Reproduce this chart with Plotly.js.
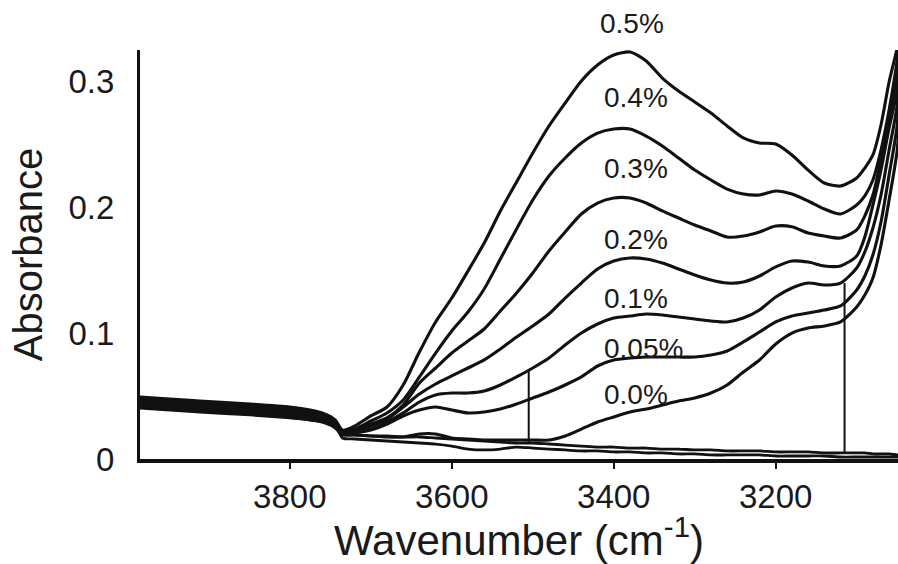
<!DOCTYPE html>
<html>
<head>
<meta charset="utf-8">
<script src="https://cdn.plot.ly/plotly-3.0.1.min.js"></script>
<style>html,body{margin:0;padding:0;background:#fff}#chart{width:898px;height:564px}</style>
</head>
<body>
<div id="chart"></div>
<script>
// Wavenumber grid (cm-1)
const wavenumber = [3985,3948,3911,3849,3800,3775,3757,3744,3735,3720,3700,3680,3660,3640,3620,3600,3580,3560,3540,3520,3500,3480,3460,3440,3420,3400,3380,3360,3340,3320,3300,3280,3260,3240,3220,3200,3180,3160,3140,3120,3100,3090,3080,3070,3060,3050,3045];

// Absorbance spectra, one per concentration
const abs_0_5 = [0.0493,0.0477,0.0461,0.0437,0.0413,0.0389,0.0358,0.0310,
  0.0230,0.0262,0.0342,0.0413,0.0588,0.0850,0.1089,0.1279,0.1494,0.1716,0.1971,0.2201,0.2431,0.2646,0.2829,0.3004,0.3131,0.3210,0.3234,0.3163,0.3027,0.2924,0.2837,0.2749,0.2646,0.2551,0.2511,0.2503,0.2416,0.2296,0.2193,0.2169,0.2233,0.2312,0.2416,0.2654,0.2996,0.3266,0.345];
const abs_0_4 = [0.0477,0.0461,0.0445,0.0421,0.0397,0.0373,0.0342,0.0302,
  0.0222,0.0238,0.0302,0.0366,0.0469,0.0652,0.0842,0.1017,0.1168,0.1351,0.1589,0.1828,0.2058,0.2249,0.2392,0.2511,0.2590,0.2622,0.2622,0.2566,0.2487,0.2392,0.2296,0.2217,0.2145,0.2106,0.2098,0.2130,0.2106,0.2050,0.1987,0.1947,0.2018,0.2090,0.2217,0.2455,0.2773,0.3170,0.345];
const abs_0_3 = [0.0461,0.0445,0.0429,0.0405,0.0381,0.0358,0.0326,0.0286,
  0.0215,0.0230,0.0278,0.0326,0.0429,0.0604,0.0723,0.0842,0.0938,0.1033,0.1176,0.1319,0.1478,0.1653,0.1804,0.1947,0.2034,0.2074,0.2074,0.2034,0.1971,0.1915,0.1859,0.1812,0.1764,0.1772,0.1804,0.1851,0.1845,0.1796,0.1772,0.1756,0.1820,0.1931,0.2098,0.2376,0.2710,0.3051,0.345];
const abs_0_2 = [0.0445,0.0429,0.0413,0.0389,0.0366,0.0342,0.0310,0.0270,
  0.0207,0.0222,0.0262,0.0318,0.0413,0.0516,0.0596,0.0660,0.0723,0.0787,0.0874,0.0969,0.1057,0.1152,0.1279,0.1398,0.1510,0.1573,0.1597,0.1589,0.1557,0.1510,0.1462,0.1422,0.1398,0.1406,0.1454,0.1526,0.1573,0.1565,0.1534,0.1534,0.1613,0.1764,0.2018,0.2296,0.2630,0.2932,0.34];
const abs_0_1 = [0.0429,0.0413,0.0397,0.0373,0.0350,0.0326,0.0302,0.0262,
  0.0207,0.0215,0.0238,0.0294,0.0366,0.0453,0.0509,0.0524,0.0524,0.0540,0.0588,0.0652,0.0723,0.0802,0.0906,0.1001,0.1073,0.1120,0.1136,0.1152,0.1144,0.1128,0.1112,0.1097,0.1089,0.1120,0.1184,0.1287,0.1359,0.1398,0.1383,0.1398,0.1518,0.1645,0.1836,0.2098,0.2455,0.2813,0.34];
const abs_0_05 = [0.0413,0.0397,0.0381,0.0358,0.0334,0.0310,0.0294,0.0254,
  0.0199,0.0207,0.0230,0.0278,0.0342,0.0389,0.0413,0.0389,0.0366,0.0373,0.0397,0.0437,0.0485,0.0532,0.0588,0.0652,0.0739,0.0787,0.0802,0.0810,0.0810,0.0810,0.0810,0.0826,0.0858,0.0930,0.1009,0.1089,0.1136,0.1160,0.1184,0.1216,0.1343,0.1454,0.1621,0.1883,0.2257,0.2654,0.33];
const abs_0_0 = [0.0485,0.0461,0.0453,0.0429,0.0405,0.0373,0.0334,0.0286,
  0.0199,0.0191,0.0183,0.0175,0.0175,0.0199,0.0199,0.0167,0.0159,0.0151,0.0151,0.0151,0.0151,0.0151,0.0183,0.0238,0.0294,0.0334,0.0373,0.0397,0.0429,0.0461,0.0485,0.0524,0.0588,0.0691,0.0787,0.0914,0.1001,0.1041,0.1057,0.1089,0.1208,0.1303,0.1438,0.1700,0.2058,0.2455,0.30];
// Flat reference spectra lying near the baseline
const absRefA = [0.0405,0.0389,0.0373,0.0350,0.0326,0.0310,0.0286,0.0246,
  0.0191,0.0191,0.0183,0.0183,0.0175,0.0175,0.0167,0.0159,0.0151,0.0143,0.0135,0.0127,0.0127,0.0119,0.0111,0.0103,0.0095,0.0095,0.0087,0.0087,0.0079,0.0079,0.0072,0.0072,0.0064,0.0064,0.0064,0.0056,0.0056,0.0056,0.0048,0.0048,0.0048,0.0048,0.0040,0.0040,0.0040,0.0032,0.0032];
const absRefB = [0.0453,0.0437,0.0421,0.0397,0.0373,0.0350,0.0318,0.0270,
  0.0167,0.0159,0.0151,0.0143,0.0135,0.0127,0.0119,0.0103,0.0079,0.0072,0.0079,0.0095,0.0087,0.0079,0.0072,0.0064,0.0064,0.0056,0.0056,0.0048,0.0048,0.0040,0.0040,0.0032,0.0032,0.0032,0.0032,0.0024,0.0024,0.0024,0.0024,0.0016,0.0016,0.0016,0.0016,0.0016,0.0016,0.0016,0.0016];

// Integration limit markers (wavenumber, bottom absorbance, top absorbance)
const markerWn = [3505, 3115];
const markerLow = [0.0127, 0.0040];
const markerHigh = [0.0707, 0.1398];

// Series labels
const seriesNames = ['0.5%','0.4%','0.3%','0.2%','0.1%','0.05%','0.0%'];
const seriesData = [abs_0_5, abs_0_4, abs_0_3, abs_0_2, abs_0_1, abs_0_05, abs_0_0];
const tickVals = [3800, 3600, 3400, 3200];
const yTickVals = [0, 0.1, 0.2, 0.3];
const yTickText = ['0', '0.1', '0.2', '0.3'];

// label anchor placement: [x (data), y, y reference]
const labelPlace = [[3420,1.064,'paper'],[3415,0.2876,'y'],[3415,0.2312,'y'],[3415,0.1748,'y'],[3414,0.1279,'y'],[3414,0.0882,'y'],[3414,0.0509,'y']];

const ink = '#111';
const font = 'Liberation Sans, Arial, Helvetica, sans-serif';

const traces = [];
seriesData.forEach((ys, i) => {
  traces.push({x: wavenumber, y: ys, type: 'scatter', mode: 'lines', name: seriesNames[i],
    line: {color: ink, width: 3.1, shape: 'spline', smoothing: 0.7}, hoverinfo: 'skip'});
});
[absRefA, absRefB].forEach((ys) => {
  traces.push({x: wavenumber, y: ys, type: 'scatter', mode: 'lines',
    line: {color: ink, width: 2.8, shape: 'spline', smoothing: 0.7}, hoverinfo: 'skip'});
});
markerWn.forEach((w, i) => {
  traces.push({x: [w, w], y: [markerLow[i], markerHigh[i]], type: 'scatter', mode: 'lines',
    line: {color: ink, width: 2}, hoverinfo: 'skip'});
});

const annotations = seriesNames.map((t, i) => ({
  x: labelPlace[i][0], y: labelPlace[i][1], xref: 'x', yref: labelPlace[i][2], text: t,
  showarrow: false, xanchor: 'left', yanchor: 'middle',
  font: {family: font, size: 28, color: '#1a1a1a'}
}));

const layout = {
  width: 898, height: 564,
  margin: {l: 140, r: 0, t: 50, b: 105},
  paper_bgcolor: '#fff', plot_bgcolor: '#fff',
  showlegend: false,
  xaxis: {
    range: [3985, 3049], tickvals: tickVals, ticks: 'outside', ticklen: 6, tickwidth: 2, tickcolor: ink,
    showline: true, linewidth: 3.5, linecolor: ink, showgrid: false, zeroline: false,
    tickfont: {family: font, size: 33, color: '#1a1a1a'},
    title: {text: 'Wavenumber (cm<sup>-1</sup>)', font: {family: font, size: 42, color: '#1a1a1a'}, standoff: 4}
  },
  yaxis: {
    range: [0, 0.325], tickvals: yTickVals, ticktext: yTickText, ticks: '',
    showline: true, linewidth: 3, linecolor: ink, showgrid: false, zeroline: false,
    ticklabelstandoff: 16,
    tickfont: {family: font, size: 33, color: '#1a1a1a'},
    title: {text: 'Absorbance', font: {family: font, size: 40, color: '#1a1a1a'}, standoff: 14}
  },
  annotations: annotations
};

Plotly.newPlot('chart', traces, layout, {displayModeBar: false, staticPlot: true});
</script>
</body>
</html>
